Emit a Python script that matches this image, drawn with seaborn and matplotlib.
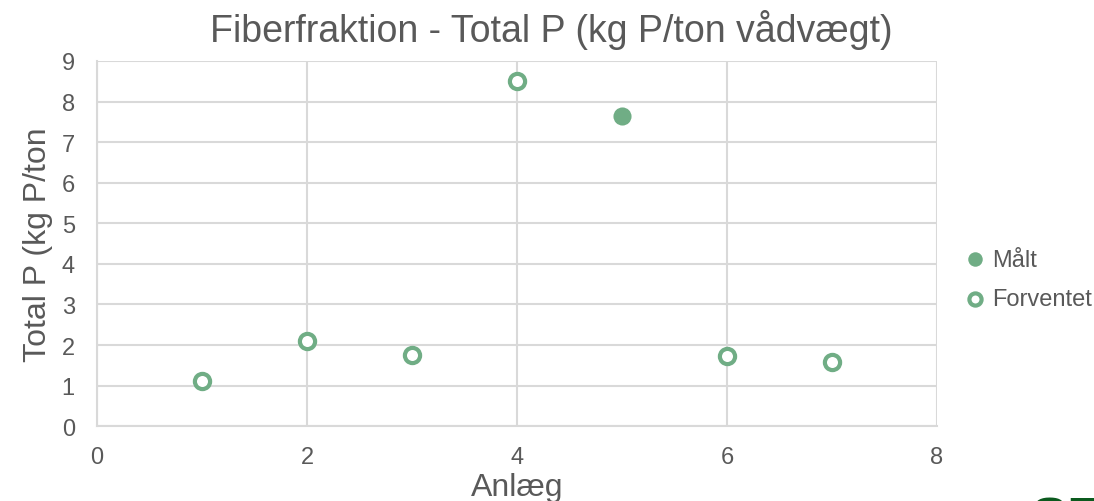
import matplotlib
matplotlib.use("Agg")
import matplotlib.pyplot as plt
import pandas as pd
import seaborn as sns

# data
maalt_x = [5]
maalt_y = [7.64]
forventet_x = [1, 2, 3, 4, 6, 7]
forventet_y = [1.12, 2.1, 1.76, 8.5, 1.73, 1.58]

green = "#70AD85"
grey = "#595959"

sns.set_theme(style="whitegrid")
plt.rcParams["font.family"] = ["Liberation Sans", "DejaVu Sans"]

fig = plt.figure(figsize=(10.94, 5.02), dpi=100)
ax = fig.add_axes([0.0887, 0.149, 0.7678, 0.7275])

df_m = pd.DataFrame({"Anlæg": maalt_x, "P": maalt_y})
df_f = pd.DataFrame({"Anlæg": forventet_x, "P": forventet_y})

sns.scatterplot(data=df_m, x="Anlæg", y="P", ax=ax, s=170, color=green,
                edgecolor=green, linewidth=0, label="Målt", zorder=3)
sns.scatterplot(data=df_f, x="Anlæg", y="P", ax=ax, s=120, facecolor="white",
                edgecolor=green, linewidth=3, label="Forventet", zorder=3)

ax.set_xlim(0, 8)
ax.set_ylim(0, 9)
ax.set_xticks([0, 2, 4, 6, 8])
ax.set_yticks(range(0, 10))
ax.grid(True, color="#D9D9D9", linewidth=1.5)
for side in ["top", "right"]:
    ax.spines[side].set_visible(False)
for side in ["left", "bottom"]:
    ax.spines[side].set_color("#D9D9D9")
    ax.spines[side].set_linewidth(1.5)
ax.tick_params(axis="both", labelsize=17, colors=grey, length=0)
ax.tick_params(axis="y", pad=16)
ax.tick_params(axis="x", pad=14)

# title sits a bit right of the axes centre in the reference
fig.text(551 / 1094, 1 - 30 / 502, "Fiberfraktion - Total P (kg P/ton vådvægt)",
         fontsize=27, color=grey, ha="center", va="center")
ax.set_xlabel("Anlæg", fontsize=23, color=grey, labelpad=3)
ax.set_ylabel("Total P (kg P/ton", fontsize=23, color=grey, labelpad=6)

ax.legend(loc="center left", bbox_to_anchor=(0.992, 0.402), frameon=False,
          fontsize=17, labelcolor=grey, handletextpad=-0.3, labelspacing=0.75,
          markerscale=0.8)

# partial logo in the corner
fig.text(1030 / 1094, -0.04, "SE", fontsize=40, fontweight="bold",
         color="#0B5A1E", ha="left", va="center")

fig.savefig("out.png", dpi=100)
